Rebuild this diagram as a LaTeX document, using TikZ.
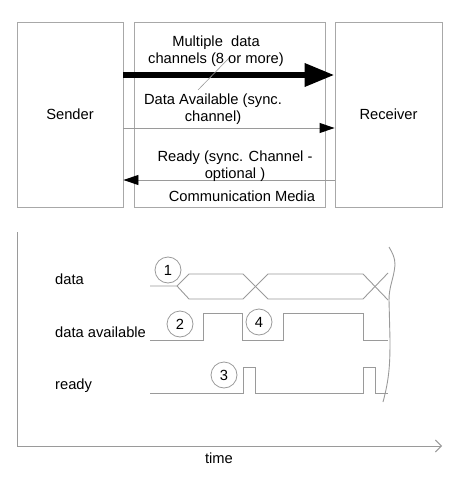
\documentclass[tikz,border=0pt]{standalone}
\usepackage{fontspec}
\setmainfont{Liberation Sans}
\usetikzlibrary{arrows.meta,positioning,calc}
\definecolor{linegray}{HTML}{9A9A9A}
\definecolor{boxgray}{HTML}{A8A8A8}
\tikzstyle{unit}=[rectangle, draw=boxgray, line width=0.9pt, minimum height=185pt, inner sep=0pt]
\tikzstyle{lab}=[font=\fontsize{14.7}{17}\selectfont, align=center, inner sep=0pt]
\tikzstyle{sig}=[draw=linegray, line width=0.9pt]
\tikzstyle{num}=[circle, draw=linegray, line width=0.8pt, minimum size=26pt, inner sep=0pt, font=\fontsize{14.7}{17}\selectfont]
\tikzstyle{chan}=[draw=linegray, line width=0.9pt]
\begin{document}
\begin{tikzpicture}[x=1pt, y=-1pt]
        \useasboundingbox (0,0) rectangle (456,478);
        % three blocks
      \node at (70,114.5) [unit, minimum width=106pt] (sender) {};
      \node at (229.5,114.5) [unit, minimum width=191pt] (media) {};
      \node at (388.5,114.5) [unit, minimum width=107pt] (receiver) {};
      \node at (70,114.5) [lab] (sendlab) {Sender};
      \node at (388.5,114.5) [lab] (reclab) {Receiver};
        % channels
      \draw [line width=6.5pt, -{Triangle[length=30pt,width=22pt]}] (sender.east |- 0,75) -- (receiver.west |- 0,75);
      \draw [chan, -{Triangle[length=15pt,width=10pt,color=black]}] (sender.east |- 0,128) -- (receiver.west |- 0,128);
      \draw [chan, -{Triangle[length=15pt,width=10pt,color=black]}] (receiver.west |- 0,180) -- (sender.east |- 0,180);
      \draw [chan, line width=0.6pt] (198,90) -- (230,57);
      \node at (216,51.5) [lab] (multi) {Multiple\ \ data\\channels (8 or more)};
      \node at (213,109.5) [lab] (avail) {Data Available (sync.\\channel)};
      \node at (235,166) [lab] (rdy) {Ready (sync. Channel -\\optional )};
      \node at (242,196) [lab] (comm) {Communication Media};
        % timing diagram
      \coordinate (origin) at (17,446);
      \coordinate (ytop) at (17,232);
      \coordinate (tend) at (442,446);
      \draw [chan] (ytop) -- (origin);
      \draw [chan, -{Straight Barb[length=6pt,width=12pt]}] (origin) -- (tend);
      \node at (219,458) [lab] (timelab) {time};
      \node at (55,279) [lab, anchor=west] (datalab) {data};
      \node at (55,332) [lab, anchor=west] (availlab) {data available};
      \node at (55,386) [lab, anchor=west] (readylab) {ready};
        % data
      \draw [sig] (150,286) -- (177,286) -- (189,274) -- (243,274) -- (268,299) -- (363,299) -- (388,273);
      \draw [sig] (177,286) -- (189,299) -- (243,299) -- (268,274) -- (363,274) -- (388,300);
        % data available
      \draw [sig] (150,340) -- (203,340) -- (203,313) -- (242,313) -- (242,340) -- (283,340) -- (283,313) -- (363,313) -- (363,340) -- (388,340);
        % ready
      \draw [sig] (150,393) -- (243,393) -- (243,367) -- (255,367) -- (255,393) -- (363,393) -- (363,367) -- (375,367) -- (375,393) -- (388,393);
        % break line
      \draw [sig] (389,247) to[out=-60,in=90] (395,265) to[out=-95,in=90] (389,300) -- (390,340) to[out=-90,in=75] (383,402);
        % markers
      \node at (168,270) [num] (m1) {1};
      \node at (180,324) [num] (m2) {2};
      \node at (224,375) [num] (m3) {3};
      \node at (259,322) [num] (m4) {4};
      \end{tikzpicture}
\end{document}
